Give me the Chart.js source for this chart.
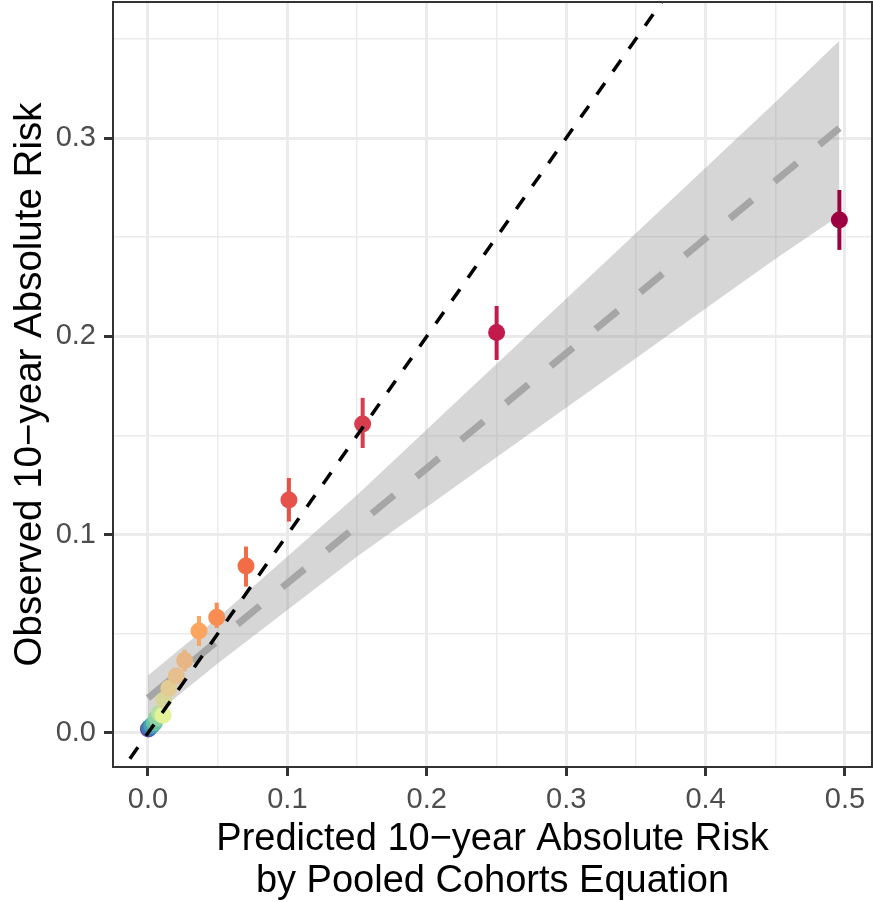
<!DOCTYPE html>
<html lang="en">
<head>
<meta charset="UTF-8">
<title>Calibration plot</title>
<script src="https://cdn.jsdelivr.net/npm/chart.js"></script>
<style>
  body { margin: 0; background: #fff; }
  #wrap { position: relative; width: 873px; height: 902px; }
</style>
</head>
<body>
<div id="wrap"><canvas id="calib"></canvas></div>
<script>
// risk groups: predicted vs observed 10-year risk
const predicted = [0.0003, 0.0012, 0.0028, 0.0045, 0.0062, 0.0082, 0.0108, 0.0112, 0.0150, 0.0203, 0.0263, 0.0366, 0.0493, 0.0703, 0.1011, 0.1540, 0.2501, 0.4960];
const observed  = [0.0020, 0.0028, 0.0038, 0.0050, 0.0075, 0.0100, 0.0090, 0.0165, 0.0225, 0.0287, 0.0365, 0.0514, 0.0583, 0.0842, 0.1175, 0.1558, 0.2019, 0.2587];
const obsLower  = [0.0010, 0.0018, 0.0026, 0.0036, 0.0058, 0.0080, 0.0070, 0.0140, 0.0195, 0.0250, 0.0310, 0.0439, 0.0530, 0.0738, 0.1066, 0.1437, 0.1881, 0.2436];
const obsUpper  = [0.0030, 0.0038, 0.0050, 0.0064, 0.0092, 0.0120, 0.0110, 0.0190, 0.0255, 0.0325, 0.0420, 0.0590, 0.0657, 0.0940, 0.1286, 0.1690, 0.2153, 0.2738];
const groupColors = ['#5E4FA2', '#3A7DB8', '#4A9DB3', '#66C2A5', '#8FD2A4', '#B4E0A2', '#E4F39A', '#D8D79A', '#E3CC93',
                     '#E5C08C', '#E8B585', '#FBA55E', '#F88C51', '#F26C45', '#E5524A', '#D63D4E', '#C21A4B', '#9E0142'];

// linear fit and its confidence band
const fitX = [0, 0.496];
const fitY = [0.0176, 0.305];
const bandX     = [0, 0.05, 0.10, 0.15, 0.20, 0.25, 0.30, 0.35, 0.40, 0.45, 0.496];
const bandUpper = [0.029, 0.058, 0.089, 0.120, 0.153, 0.186, 0.219, 0.252, 0.285, 0.318, 0.349];
const bandLower = [0.0065, 0.035, 0.062, 0.089, 0.114, 0.139, 0.164, 0.189, 0.214, 0.239, 0.261];

// identity line y = x
const identityX = [-0.013, 0.38];

const xTicks = [0, 0.05, 0.1, 0.15, 0.2, 0.25, 0.3, 0.35, 0.4, 0.45, 0.5];
const yTicks = [0, 0.05, 0.1, 0.15, 0.2, 0.25, 0.3, 0.35];

const isMajor = v => Math.abs(v * 10 - Math.round(v * 10)) < 1e-6;
const FONT = "'Liberation Sans', Arial, Helvetica, sans-serif";

const POINTS = 3; // dataset index of the risk groups

// vertical error bars, drawn just before the points
const errorBars = {
  id: 'errorBars',
  beforeDatasetDraw(chart, args) {
    if (args.index !== POINTS) return;
    const ctx = chart.ctx, xs = chart.scales.x, ys = chart.scales.y;
    ctx.save();
    ctx.lineWidth = 4;
    predicted.forEach((p, i) => {
      ctx.strokeStyle = groupColors[i];
      ctx.beginPath();
      ctx.moveTo(xs.getPixelForValue(p), ys.getPixelForValue(obsLower[i]));
      ctx.lineTo(xs.getPixelForValue(p), ys.getPixelForValue(obsUpper[i]));
      ctx.stroke();
    });
    ctx.restore();
  }
};

// panel border like theme_bw
const panelBorder = {
  id: 'panelBorder',
  afterDraw(chart) {
    const a = chart.chartArea, ctx = chart.ctx;
    ctx.save();
    ctx.strokeStyle = '#333333';
    ctx.lineWidth = 2;
    ctx.strokeRect(a.left, a.top, a.right - a.left, a.bottom - a.top);
    ctx.restore();
  }
};

const gridOpts = {
  color: '#EBEBEB',
  lineWidth: c => (c.tick && isMajor(c.tick.value)) ? 3 : 1.5,
  tickColor: c => (c.tick && isMajor(c.tick.value)) ? '#333333' : 'rgba(0,0,0,0)',
  tickLength: 9,
  tickWidth: 3
};

new Chart(document.getElementById('calib'), {
  type: 'line',
  data: {
    datasets: [
      {
        label: 'identity',
        data: identityX.map(v => ({ x: v, y: v })),
        borderColor: '#000000', borderWidth: 3.5, borderDash: [14, 14],
        pointRadius: 0, fill: false, order: 0
      },
      {
        label: 'fit',
        data: fitX.map((v, i) => ({ x: v, y: fitY[i] })),
        borderColor: '#A6A6A6', borderWidth: 7, borderDash: [29, 29],
        pointRadius: 0, fill: false, order: 3
      },
      {
        label: 'band lower',
        data: bandX.map((v, i) => ({ x: v, y: bandLower[i] })),
        borderWidth: 0, borderColor: 'rgba(0,0,0,0)',
        pointRadius: 0, fill: false, order: 5
      },
      {
        label: 'groups',
        data: predicted.map((v, i) => ({ x: v, y: observed[i] })),
        showLine: false,
        pointRadius: 8.5, pointBorderWidth: 0,
        pointBackgroundColor: groupColors,
        order: 1
      },
      {
        label: 'band upper',
        data: bandX.map((v, i) => ({ x: v, y: bandUpper[i] })),
        borderWidth: 0, borderColor: 'rgba(0,0,0,0)',
        pointRadius: 0,
        fill: { target: 2 },
        backgroundColor: 'rgba(153,153,153,0.4)',
        order: 4
      }
    ]
  },
  options: {
    responsive: true,
    maintainAspectRatio: false,
    animation: false,
    layout: { autoPadding: false, padding: { top: 2, right: 1, left: 0, bottom: 0 } },
    plugins: { legend: { display: false }, tooltip: { enabled: false } },
    scales: {
      x: {
        type: 'linear',
        min: -0.0251, max: 0.5194,
        afterBuildTicks: s => { s.ticks = xTicks.map(v => ({ value: v })); },
        afterFit: s => { s.height = 135; s.paddingLeft = 0; s.paddingRight = 0; },
        grid: gridOpts,
        border: { display: false },
        ticks: {
          color: '#4D4D4D', font: { family: FONT, size: 29 }, padding: 7,
          autoSkip: false, maxRotation: 0,
          callback: v => isMajor(v) ? v.toFixed(1) : ''
        },
        title: {
          display: true,
          text: ['Predicted 10\u2212year Absolute Risk', 'by Pooled Cohorts Equation'],
          color: '#000000', font: { family: FONT, size: 38, lineHeight: 1.1 },
          padding: { top: 0, bottom: 0 }
        }
      },
      y: {
        type: 'linear',
        min: -0.01715, max: 0.3686,
        afterBuildTicks: s => { s.ticks = yTicks.map(v => ({ value: v })); },
        afterFit: s => { s.width = 113; s.paddingTop = 0; s.paddingBottom = 0; },
        grid: gridOpts,
        border: { display: false },
        ticks: {
          color: '#4D4D4D', font: { family: FONT, size: 29 }, padding: 8,
          autoSkip: false,
          callback: v => isMajor(v) ? v.toFixed(1) : ''
        },
        title: {
          display: true,
          text: 'Observed 10\u2212year Absolute Risk',
          color: '#000000', font: { family: FONT, size: 38.5, lineHeight: 1.1 },
          padding: { top: 9, bottom: 0 }
        }
      }
    }
  },
  plugins: [errorBars, panelBorder]
});
</script>
</body>
</html>
